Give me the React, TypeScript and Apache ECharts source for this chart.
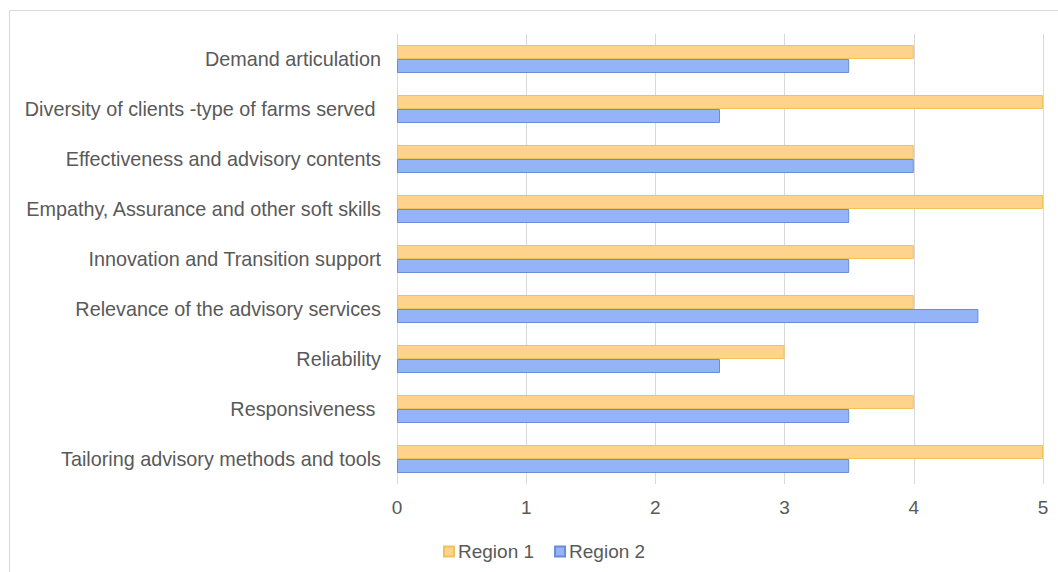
import React, { useEffect, useRef } from "react";
import * as echarts from "echarts";

const categories = [
  "Demand articulation",
  "Diversity of clients -type of farms served ",
  "Effectiveness and advisory contents",
  "Empathy, Assurance and other soft skills",
  "Innovation and Transition support",
  "Relevance of the advisory services",
  "Reliability",
  "Responsiveness ",
  "Tailoring advisory methods and tools",
];
const region1 = [4, 5, 4, 5, 4, 4, 3, 4, 5];
const region2 = [3.5, 2.5, 4, 3.5, 3.5, 4.5, 2.5, 3.5, 3.5];
const seriesNames = ["Region 1", "Region 2"];

export default function App() {
  const ref = useRef<HTMLDivElement>(null);
  useEffect(() => {
    if (!ref.current) return;
    const chart = echarts.init(ref.current, undefined, { renderer: "svg" });
    const font = "'Liberation Sans', Arial, sans-serif";
    chart.setOption({
      animation: false,
      backgroundColor: "#ffffff",
      textStyle: { fontFamily: font },
      graphic: [
        { type: "line", shape: { x1: 9.5, y1: 10.5, x2: 1058, y2: 10.5 }, style: { stroke: "#d9d9d9", lineWidth: 1 } },
        { type: "line", shape: { x1: 9.5, y1: 10.5, x2: 9.5, y2: 572 }, style: { stroke: "#d9d9d9", lineWidth: 1 } },
      ],
      grid: { left: 397, right: 15, top: 34, bottom: 88, containLabel: false },
      legend: {
        data: seriesNames,
        top: 537,
        left: 438,
        itemWidth: 10,
        itemHeight: 10,
        itemGap: 20,
        icon: "rect",
        textStyle: { fontSize: 19, color: "#595959", fontFamily: font, padding: [0, 0, 0, -1] },
      },
      xAxis: {
        type: "value",
        min: 0,
        max: 5,
        interval: 1,
        axisLine: { show: false },
        axisTick: { show: false },
        splitLine: { show: true, lineStyle: { color: "#d9d9d9", width: 1 } },
        axisLabel: { fontSize: 19, color: "#595959", margin: 14, fontFamily: font },
      },
      yAxis: {
        type: "category",
        data: categories,
        inverse: true,
        axisLine: { show: true, lineStyle: { color: "#d9d9d9" } },
        axisTick: { show: false },
        axisLabel: { fontSize: 19.8, color: "#595959", margin: 16, fontFamily: font },
      },
      series: [
        {
          name: seriesNames[0],
          type: "bar",
          data: region1,
          barCategoryGap: "44%",
          barGap: "0%",
          itemStyle: { color: "#ffd38c", borderColor: "#eec35a", borderWidth: 1 },
        },
        {
          name: seriesNames[1],
          type: "bar",
          data: region2,
          barCategoryGap: "44%",
          barGap: "0%",
          itemStyle: { color: "#94b4f7", borderColor: "#6a8cdc", borderWidth: 1 },
        },
      ],
    });
    return () => chart.dispose();
  }, []);
  return (
    <div
      ref={ref}
      style={{ position: "fixed", left: 0, top: 0, width: 1058, height: 572 }}
    />
  );
}
